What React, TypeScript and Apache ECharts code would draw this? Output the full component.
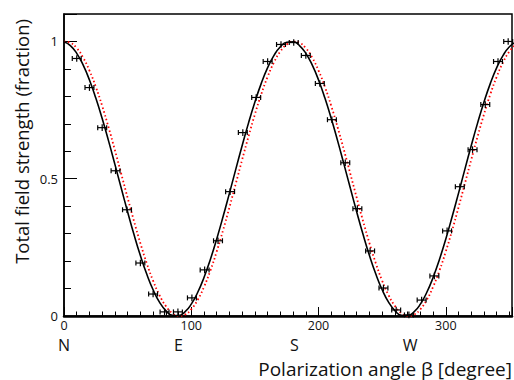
import React, { useEffect, useRef } from "react";
import * as echarts from "echarts";

// Measured points (degree, fraction)
const measX = [10, 20, 30, 40.5, 49.5, 60, 70, 79, 89.5, 100.5, 110.5, 121, 130.5, 140.5, 151, 160, 170.5, 180.5, 190, 201, 210.5, 221, 230.5, 240.5, 251, 261, 271, 281, 291, 301, 311, 321, 331, 341, 349];
const measY = [0.938, 0.832, 0.686, 0.529, 0.387, 0.193, 0.08, 0.015, 0.015, 0.066, 0.168, 0.274, 0.453, 0.668, 0.796, 0.927, 0.989, 0.996, 0.949, 0.847, 0.715, 0.558, 0.391, 0.237, 0.102, 0.022, 0.004, 0.058, 0.146, 0.31, 0.471, 0.606, 0.77, 0.927, 1.0];
const measXErr = 3.5;
const measYErr = 0.012;

// Curves sampled every 5 degrees from 0 to 355
const curveX = Array.from({ length: 72 }, (_, i) => i * 5);
const fitBlack = [
  0.9988, 0.9851, 0.9568, 0.9145, 0.8597, 0.7939, 0.7192, 0.6378, 0.5523, 0.4651, 0.379, 0.2966,
  0.2204, 0.1527, 0.0955, 0.0506, 0.0194, 0.0027, 0.0012, 0.0149, 0.0432, 0.0855, 0.1403, 0.2061,
  0.2808, 0.3622, 0.4477, 0.5349, 0.621, 0.7034, 0.7796, 0.8473, 0.9045, 0.9494, 0.9806, 0.9973,
  0.9988, 0.9851, 0.9568, 0.9145, 0.8597, 0.7939, 0.7192, 0.6378, 0.5523, 0.4651, 0.379, 0.2966,
  0.2204, 0.1527, 0.0955, 0.0506, 0.0194, 0.0027, 0.0012, 0.0149, 0.0432, 0.0855, 0.1403, 0.2061,
  0.2808, 0.3622, 0.4477, 0.5349, 0.621, 0.7034, 0.7796, 0.8473, 0.9045, 0.9494, 0.9806, 0.9973,
];
const modelRed = [
  0.9997, 0.9951, 0.9755, 0.9415, 0.894, 0.8346, 0.765, 0.6873, 0.604, 0.5175, 0.4304, 0.3455,
  0.2653, 0.1922, 0.1284, 0.076, 0.0364, 0.0109, 0.0003, 0.0049, 0.0245, 0.0585, 0.106, 0.1654,
  0.235, 0.3127, 0.396, 0.4825, 0.5696, 0.6545, 0.7347, 0.8078, 0.8716, 0.924, 0.9636, 0.9891,
  0.9997, 0.9951, 0.9755, 0.9415, 0.894, 0.8346, 0.765, 0.6873, 0.604, 0.5175, 0.4304, 0.3455,
  0.2653, 0.1922, 0.1284, 0.076, 0.0364, 0.0109, 0.0003, 0.0049, 0.0245, 0.0585, 0.106, 0.1654,
  0.235, 0.3127, 0.396, 0.4825, 0.5696, 0.6545, 0.7347, 0.8078, 0.8716, 0.924, 0.9636, 0.9891,
];

const compassLabels = ["N", "E", "S", "W"];
const compassDeg = [0, 90, 181, 272];

const xTitle = "Polarization angle β [degree]";
const yTitle = "Total field strength (fraction)";

const FONT = "Open Sans";

export default function App() {
  const ref = useRef<HTMLDivElement>(null);
  useEffect(() => {
    document.body.style.margin = "0";
    const chart = echarts.init(ref.current!, null, { renderer: "svg" });
    const option: any = {
      animation: false,
      backgroundColor: "#fff",
      textStyle: { fontFamily: FONT },
      grid: {
        left: 64,
        top: 14,
        width: 448,
        height: 302,
        show: true,
        borderColor: "#000",
        borderWidth: 1.5,
        backgroundColor: "transparent",
      },
      xAxis: {
        type: "value",
        min: 0,
        max: 352,
        interval: 100,
        axisLine: { show: true, onZero: false, lineStyle: { color: "#000", width: 2.5 } },
        axisTick: { show: true, inside: true, length: 9, lineStyle: { color: "#000", width: 1 } },
        minorTick: { show: true, splitNumber: 10, length: 4.5, lineStyle: { color: "#000", width: 1 } },
        splitLine: { show: false },
        axisLabel: { color: "#111", fontSize: 12.5, lineHeight: 13, margin: 3, fontFamily: FONT, showMaxLabel: false },
      },
      yAxis: {
        type: "value",
        min: 0,
        max: 1.1,
        interval: 0.5,
        axisLine: { show: true, onZero: false, lineStyle: { color: "#000", width: 1.5 } },
        axisTick: { show: true, inside: true, length: 13, lineStyle: { color: "#000", width: 1 } },
        minorTick: { show: true, splitNumber: 5, length: 7, lineStyle: { color: "#000", width: 1 } },
        splitLine: { show: false },
        axisLabel: {
          color: "#111",
          fontSize: 13,
          margin: 6,
          fontFamily: FONT,
          showMaxLabel: false,
          formatter: (v: number) => (v === 0 ? "0" : v === 1 ? "1" : String(v)),
        },
      },
      series: [
        {
          type: "line",
          data: curveX.map((x, i) => [x, modelRed[i]]),
          smooth: true,
          symbol: "none",
          clip: true,
          lineStyle: { color: "#ff0000", width: 1.8, type: [1.5, 2.5] },
          z: 2,
        },
        {
          type: "line",
          data: curveX.map((x, i) => [x, fitBlack[i]]),
          smooth: true,
          symbol: "none",
          clip: true,
          lineStyle: { color: "#000", width: 1.6 },
          z: 3,
        },
        {
          type: "custom",
          data: measX.map((x, i) => [x, measY[i], measXErr, measYErr]),
          encode: { x: 0, y: 1 },
          z: 4,
          renderItem: (params: any, api: any) => {
            const x = api.value(0);
            const y = api.value(1);
            const ex = api.value(2);
            const ey = api.value(3);
            const l = api.coord([x - ex, y]);
            const r = api.coord([x + ex, y]);
            const t = api.coord([x, y + ey]);
            const b = api.coord([x, y - ey]);
            const cap = 2.5;
            const st = { stroke: "#000", lineWidth: 1.2 };
            return {
              type: "group",
              children: [
                { type: "line", shape: { x1: l[0], y1: l[1], x2: r[0], y2: r[1] }, style: st },
                { type: "line", shape: { x1: l[0], y1: l[1] - cap, x2: l[0], y2: l[1] + cap }, style: st },
                { type: "line", shape: { x1: r[0], y1: r[1] - cap, x2: r[0], y2: r[1] + cap }, style: st },
                { type: "line", shape: { x1: t[0], y1: t[1], x2: b[0], y2: b[1] }, style: st },
              ],
            };
          },
        },
      ],
    };
    chart.setOption(option);

    const compass = compassLabels.map((txt, i) => {
      const px = chart.convertToPixel({ xAxisIndex: 0 }, compassDeg[i]) as number;
      return {
        type: "text",
        x: px,
        y: 344.5,
        style: {
          text: txt,
          fontSize: 16,
          lineHeight: 16,
          fontFamily: FONT,
          fill: "#111",
          textAlign: "center",
          textVerticalAlign: "middle",
        },
      };
    });
    chart.setOption({
      graphic: [
        ...compass,
        {
          type: "text",
          x: 512,
          y: 368.5,
          style: {
            text: xTitle,
            fontSize: 19,
            lineHeight: 19,
            fontFamily: FONT,
            fill: "#111",
            textAlign: "right",
            textVerticalAlign: "middle",
          },
        },
        {
          type: "text",
          x: 21,
          y: 19,
          rotation: Math.PI / 2,
          style: {
            text: yTitle,
            fontSize: 18.5,
            fontFamily: FONT,
            fill: "#111",
            textAlign: "right",
            textVerticalAlign: "middle",
          },
        },
      ],
    });
    return () => chart.dispose();
  }, []);
  return <div ref={ref} style={{ width: 514, height: 380 }} />;
}
